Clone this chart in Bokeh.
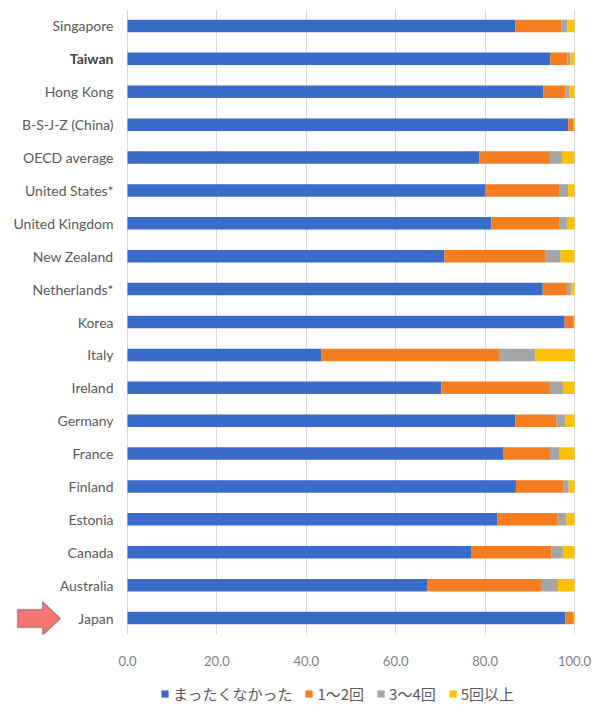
from bokeh.plotting import figure
from bokeh.layouts import column
from bokeh.models import (ColumnDataSource, FactorRange, Range1d, FixedTicker, PrintfTickFormatter,
                          Legend, LegendItem, PolyAnnotation)
from bokeh.core.properties import value
from bokeh.embed import file_html
from bokeh.resources import INLINE

countries = ["Singapore", "Taiwan", "Hong Kong", "B-S-J-Z (China)", "OECD average",
             "United States*", "United Kingdom", "New Zealand", "Netherlands*", "Korea",
             "Italy", "Ireland", "Germany", "France", "Finland", "Estonia", "Canada",
             "Australia", "Japan"]
never = [86.8, 94.6, 93.0, 98.6, 78.7, 80.1, 81.4, 70.9, 92.9, 97.8,
         43.3, 70.2, 86.8, 84.0, 86.9, 82.7, 77.0, 67.0, 98.0]
once_twice = [10.3, 3.8, 5.0, 1.2, 15.8, 16.6, 15.3, 22.5, 5.4, 1.9,
              40.0, 24.3, 9.2, 10.5, 10.7, 13.4, 17.8, 25.5, 1.8]
three_four = [1.3, 0.7, 0.8, 0.1, 2.7, 1.9, 1.6, 3.5, 0.9, 0.2,
              8.0, 2.9, 2.0, 2.2, 1.1, 2.1, 2.6, 3.8, 0.1]
five_plus = [1.6, 0.9, 1.2, 0.1, 2.8, 1.4, 1.7, 3.1, 0.8, 0.1,
             8.7, 2.6, 2.0, 3.3, 1.3, 1.8, 2.6, 3.7, 0.1]
series_names = ["まったくなかった", "1～2回", "3～4回", "5回以上"]
x_ticks = [0, 20, 40, 60, 80, 100]
highlight = "Taiwan"

colors = ["#3A6BC8", "#F57C1F", "#A5A5A5", "#FFC000"]
keys = ["never", "once_twice", "three_four", "five_plus"]

source = ColumnDataSource(dict(
    country=countries, never=never, once_twice=once_twice,
    three_four=three_four, five_plus=five_plus,
    label_style=["bold" if c == highlight else "normal" for c in countries],
    label_color=["#3F3F3F" if c == highlight else "#595959" for c in countries],
))

# layout: plot area 0..100 spans 447 px, starting 127 px from the left edge
WIDTH = 592
BORDER_RIGHT = 16
FRAME_W = WIDTH - BORDER_RIGHT
PX_PER_UNIT = 447 / 100
X_START = -127 / PX_PER_UNIT
X_END = X_START + FRAME_W / PX_PER_UNIT

p = figure(frame_width=FRAME_W, frame_height=625, output_backend="svg", toolbar_location=None,
           y_range=FactorRange(factors=list(reversed(countries))),
           x_range=Range1d(X_START, X_END),
           min_border_left=0, min_border_right=BORDER_RIGHT, min_border_top=9, min_border_bottom=47)
p.outline_line_color = None
p.background_fill_color = "white"
p.border_fill_color = "white"

renderers = p.hbar_stack(keys, y="country", height=0.38, color=colors, source=source,
                         line_color=None)

# category labels at the left of the bars
p.text(x=0, y="country", text="country", source=source, x_offset=-14,
       text_align="right", text_baseline="middle",
       text_font=value("Lato"), text_font_size="14px",
       text_font_style="label_style", text_color="label_color")

p.yaxis.visible = False

p.xaxis.ticker = FixedTicker(ticks=x_ticks)
p.xaxis.formatter = PrintfTickFormatter(format="%.1f")
p.xaxis.axis_line_color = None
p.xaxis.major_tick_line_color = None
p.xaxis.minor_tick_line_color = None
p.xaxis.major_label_standoff = 15
p.xaxis.major_label_text_font = "Lato"
p.xaxis.major_label_text_font_size = "13px"
p.xaxis.major_label_text_color = "#7F7F7F"

p.ygrid.grid_line_color = None
p.xgrid.grid_line_color = "#D9D9D9"
p.xgrid.grid_line_width = 1

arrow = PolyAnnotation(xs=[17, 42, 42, 60, 42, 42, 17], ys=[609, 609, 601, 618, 635, 627, 627],
                       xs_units="canvas", ys_units="canvas",
                       fill_color="#F4766E", fill_alpha=1.0,
                       line_color="#1F2F4F", line_width=1.5)
p.add_layout(arrow)

# legend strip below the chart (swatches use the same series styles; bars have zero height)
lg = figure(width=WIDTH, height=24, output_backend="svg", toolbar_location=None,
            y_range=FactorRange(factors=list(reversed(countries))),
            x_range=Range1d(0, 100),
            min_border_left=0, min_border_right=0, min_border_top=0, min_border_bottom=0)
lg.axis.visible = False
lg.grid.visible = False
lg.outline_line_color = None
lg.background_fill_color = "white"
lg.border_fill_color = "white"
lg_renderers = lg.hbar_stack(keys, y="country", height=0, color=colors, source=source,
                             line_color=None)
legend = Legend(items=[LegendItem(label=n, renderers=[r]) for n, r in zip(series_names, lg_renderers)],
                orientation="horizontal", location=(160, 1),
                label_text_font="Noto Sans CJK JP", label_text_font_size="15px",
                label_text_color="#595959", glyph_width=9, glyph_height=9,
                label_standoff=4, spacing=12, padding=0, margin=0,
                border_line_color=None, background_fill_alpha=0, label_height=20)
lg.add_layout(legend)

layout = column(p, lg, spacing=0)
open("out.html", "w").write(file_html(layout, INLINE))
